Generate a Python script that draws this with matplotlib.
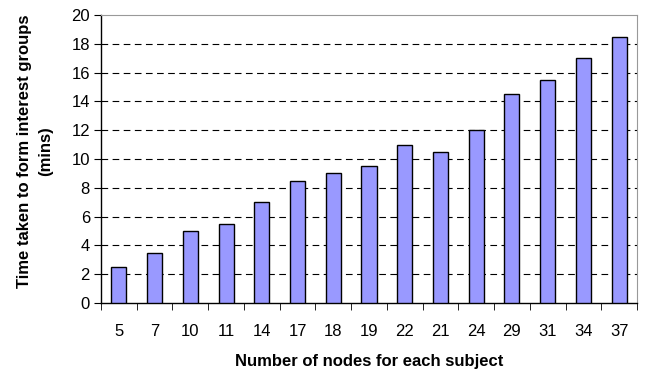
import numpy as np
import matplotlib
matplotlib.use('Agg')
import matplotlib.pyplot as plt

### DATA ###
nodes = ["5", "7", "10", "11", "14", "17", "18", "19", "22", "21", "24", "29", "31", "34", "37"]
times = [2.5, 3.5, 5, 5.5, 7, 8.5, 9, 9.5, 11, 10.5, 12, 14.5, 15.5, 17, 18.5]
y_ticks = [0, 2, 4, 6, 8, 10, 12, 14, 16, 18, 20]

plt.rcParams['font.family'] = ['Liberation Sans', 'DejaVu Sans']

fig = plt.figure(figsize=(6.47, 3.70), dpi=100)
ax = fig.add_axes([101 / 647, 1 - 303 / 370, (637 - 101) / 647, (303 - 15) / 370])

x = np.arange(len(nodes))
ax.bar(x, times, width=0.42, color='#9999FF', edgecolor='black', linewidth=1.0, zorder=3)

# dashed grid
for t in y_ticks[1:-1]:
    ax.axhline(t, color='black', linestyle=(0, (6, 4)), linewidth=0.8, zorder=1)

ax.set_xlim(-0.5, len(nodes) - 0.5)
ax.set_ylim(0, 20)
ax.set_yticks(y_ticks)
ax.set_yticklabels([str(t) for t in y_ticks], fontsize=12)

# categories between tick marks
ax.set_xticks(x)
ax.set_xticklabels(nodes, fontsize=12)
ax.tick_params(axis='x', which='major', length=0, pad=15)
ax.set_xticks(np.arange(len(nodes) + 1) - 0.5, minor=True)
ax.tick_params(axis='x', which='minor', length=5, direction='out', color='black')
ax.tick_params(axis='y', length=5, direction='out', color='black', pad=3)

for s in ['top', 'right']:
    ax.spines[s].set_color('#999999')
    ax.spines[s].set_linewidth(0.8)
for s in ['left', 'bottom']:
    ax.spines[s].set_color('black')
    ax.spines[s].set_linewidth(1.0)

ax.set_xlabel('Number of nodes for each subject', fontsize=12, fontweight='bold', labelpad=11)
ax.set_ylabel('Time taken to form interest groups\n(mins)', fontsize=12, fontweight='bold',
              linespacing=1.45)
ax.yaxis.set_label_coords(-0.09, 0.527)

fig.savefig('out.png', dpi=100)
